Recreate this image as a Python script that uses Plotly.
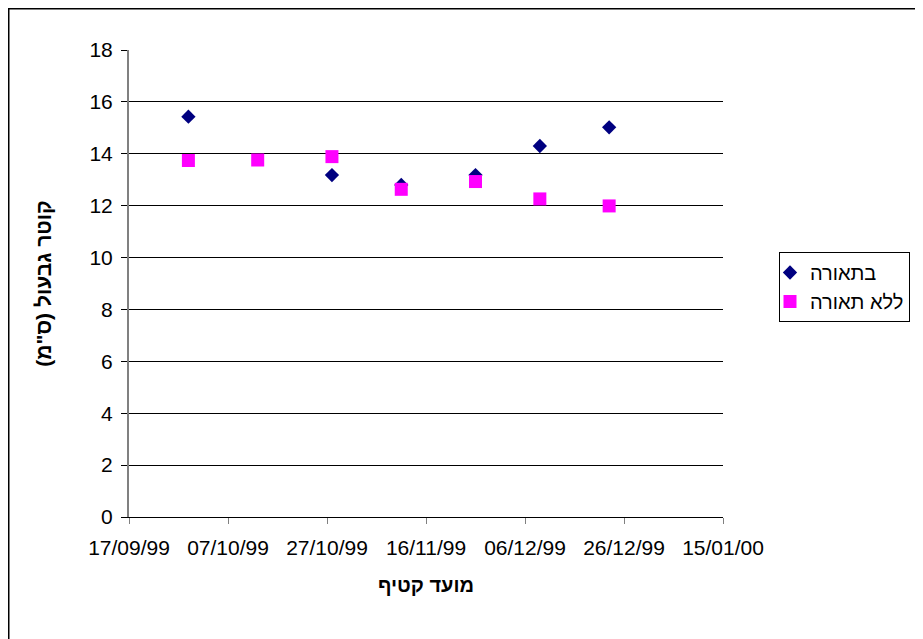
import plotly.graph_objects as go

# Data
dates_light = ["1999-09-29", "1999-10-28", "1999-11-11", "1999-11-26", "1999-12-09", "1999-12-23"]
vals_light = [15.43, 13.18, 12.80, 13.18, 14.30, 15.02]

dates_nolight = ["1999-09-29", "1999-10-13", "1999-10-28", "1999-11-11", "1999-11-26", "1999-12-09", "1999-12-23"]
vals_nolight = [13.74, 13.76, 13.89, 12.63, 12.93, 12.26, 11.99]

name_light = "בתאורה"
name_nolight = "ללא תאורה"
x_title = "מועד קטיף"
y_title = 'קוטר גבעול (ס"מ)'

FONT = "Liberation Sans, Arial, sans-serif"

# plot area in figure coordinates (page body has an 8px offset)
L, R, T, B = 121, 715, 42, 509
PW, PH = R - L, B - T

fig = go.Figure()
fig.add_trace(go.Scatter(
    x=dates_light, y=vals_light, mode="markers", name=name_light,
    marker=dict(symbol="diamond", size=11, color="#000080", line=dict(width=0)),
))
fig.add_trace(go.Scatter(
    x=dates_nolight, y=vals_nolight, mode="markers", name=name_nolight,
    marker=dict(symbol="square", size=13, color="#FF00FF", line=dict(width=0)),
))

fig.update_layout(
    width=923, height=639,
    margin=dict(l=L, r=923 - R, t=T, b=639 - B, autoexpand=False),
    paper_bgcolor="white", plot_bgcolor="white",
    font=dict(family=FONT, size=21, color="black"),
    showlegend=True,
    legend=dict(
        x=(771 - L) / PW, y=(B - 244) / PH, xanchor="left", yanchor="top",
        bordercolor="black", borderwidth=1, bgcolor="white",
        font=dict(family=FONT, size=20, color="black"),
        itemwidth=30, tracegroupgap=0, indentation=-10,
    ),
    xaxis=dict(
        type="date",
        range=["1999-09-17", "2000-01-15"],
        tick0="1999-09-17", dtick=20 * 86400000,
        tickformat="%d/%m/%y",
        showgrid=False, zeroline=False,
        showline=True, linecolor="black", linewidth=1,
        ticks="outside", ticklen=6, tickcolor="#808080", tickwidth=1,
        ticklabelstandoff=6,
        tickfont=dict(family=FONT, size=21, color="black"),
        title=dict(text="<b>" + x_title + "</b>", font=dict(family=FONT, size=20, color="black"), standoff=19),
        automargin=False,
    ),
    yaxis=dict(
        range=[0, 18], dtick=2, tick0=0,
        showgrid=True, gridcolor="black", gridwidth=1,
        zeroline=False,
        showline=True, linecolor="#808080", linewidth=2,
        ticks="outside", ticklen=6, tickcolor="black", tickwidth=1,
        ticklabelstandoff=4,
        tickfont=dict(family=FONT, size=21, color="black"),
        title=dict(text="<b>" + y_title + "</b>", font=dict(family=FONT, size=21, color="black"), standoff=32),
        automargin=False,
    ),
    shapes=[dict(
        type="rect", xref="paper", yref="paper",
        x0=(0.75 - L) / PW, x1=(960 - L) / PW,
        y0=(B - 680) / PH, y1=(B - 0.75) / PH,
        line=dict(color="black", width=1.5), fillcolor="rgba(0,0,0,0)", layer="below",
    )],
)

fig.write_html("out.html")
